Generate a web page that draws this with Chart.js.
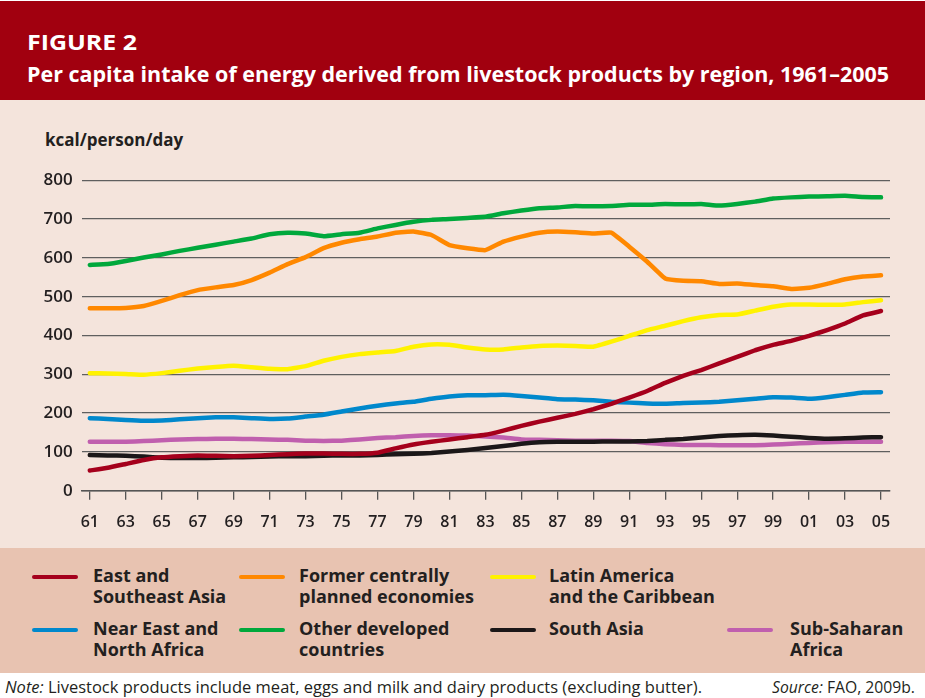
<!DOCTYPE html>
<html>
<head>
<meta charset="utf-8">
<script src="https://cdn.jsdelivr.net/npm/chart.js@4/dist/chart.umd.min.js"></script>
<style>
  html, body { margin:0; padding:0; }
  body { width:925px; height:698px; position:relative; background:#ffffff; overflow:hidden;
         font-family:"Open Sans", "Noto Sans", sans-serif; color:#231f20; }
  #head { position:absolute; left:0; top:1px; width:925px; height:99px; background:#a1000f; }
  .ttl { position:absolute; left:27px; color:#ffffff; font-weight:700; white-space:nowrap; transform-origin:0 0; }
  #fig { top:28px; font-size:21px; }
  #sub { top:60px; font-size:21px; }
  #panel { position:absolute; left:0; top:100px; width:925px; height:448px; background:#f4e4dc; }
  #unit { position:absolute; left:45px; top:128px; font-size:17px; font-weight:700; }
  #cv { position:absolute; left:0; top:160px; }
  .sw { position:absolute; height:4px; width:46px; border-radius:2px; }
  .lt { position:absolute; font-size:18px; font-weight:700; line-height:21px; white-space:nowrap; transform-origin:0 0; }
  #note { position:absolute; left:5px; top:675px; font-size:16.5px; white-space:nowrap; transform-origin:0 0; }
  #src { position:absolute; left:772px; top:675px; font-size:16.5px; white-space:nowrap; transform-origin:0 0; }
</style>
</head>
<body>
<div id="head"></div>
<div class="ttl" id="fig">FIGURE 2</div>
<div class="ttl" id="sub">Per capita intake of energy derived from livestock products by region, 1961–2005</div>
<div id="panel"></div>
<div id="unit">kcal/person/day</div>
<canvas id="cv" width="925" height="370"></canvas>
<div id="legendBox" style="position:absolute;left:0;top:548px;width:925px;height:125px;background:#e8c3b1;"></div>
<div id="note"><i>Note:</i> Livestock products include meat, eggs and milk and dairy products (excluding butter).</div>
<div id="src"><i>Source:</i> FAO, 2009b.</div>
<script>
// ---- data ----
const years = [1961,1962,1963,1964,1965,1966,1967,1968,1969,1970,
               1971,1972,1973,1974,1975,1976,1977,1978,1979,1980,
               1981,1982,1983,1984,1985,1986,1987,1988,1989,1990,
               1991,1992,1993,1994,1995,1996,1997,1998,1999,2000,
               2001,2002,2003,2004,2005];
const tickYears = [1961,1963,1965,1967,1969,1971,1973,1975,1977,1979,1981,1983,
                   1985,1987,1989,1991,1993,1995,1997,1999,2001,2003,2005];
const xTickLabels = ["61","63","65","67","69","71","73","75","77","79","81","83",
                     "85","87","89","91","93","95","97","99","01","03","05"];
const yTickValues = [0,100,200,300,400,500,600,700,800];

const eastSoutheastAsia = [52,59,69,79,86,89,91,90,89,90,
  92,94,96,96,95,95,98,109,119,126,
  132,138,144,155,167,178,188,198,210,224,
  240,257,278,296,311,328,345,362,376,386,
  399,414,431,452,463];
const formerCentrallyPlanned = [470,470,471,476,489,504,517,524,530,543,
  562,584,602,625,639,648,655,665,668,659,
  633,625,620,642,655,665,668,666,663,665,
  629,590,547,541,540,533,534,530,527,520,
  523,533,545,552,555];
const latinAmerica = [303,302,301,299,303,309,315,319,322,318,
  314,313,321,335,345,352,356,360,371,377,
  376,369,364,364,369,373,374,373,371,384,
  399,414,425,437,447,453,454,464,474,480,
  480,479,480,486,491];
const nearEastNorthAfrica = [187,185,182,180,181,184,187,189,189,187,
  185,186,191,196,204,212,219,225,229,237,
  243,246,246,247,244,240,236,235,233,229,
  227,225,224,226,227,229,233,237,241,240,
  237,241,247,253,254];
const otherDeveloped = [582,584,592,601,609,618,626,634,642,650,
  661,665,663,656,661,665,676,685,693,698,
  700,703,706,715,722,728,730,734,733,734,
  737,737,739,738,739,735,739,745,753,756,
  758,759,760,757,756];
const southAsia = [92,91,90,88,85,84,84,85,86,87,
  88,89,89,90,91,91,92,94,95,97,
  101,105,110,115,121,125,126,126,126,127,
  127,128,131,133,137,141,143,144,142,139,
  136,134,135,137,138];
const subSaharanAfrica = [126,126,126,128,130,132,133,134,134,133,
  132,131,129,128,129,132,136,138,141,143,
  143,142,140,137,132,131,130,129,129,129,
  128,123,120,118,118,117,117,117,119,121,
  123,125,126,126,126];

const seriesNames = ["East and\nSoutheast Asia","Former centrally\nplanned economies","Latin America\nand the Caribbean",
                     "Near East and\nNorth Africa","Other developed\ncountries","South Asia","Sub-Saharan\nAfrica"];
const seriesValues = [eastSoutheastAsia, formerCentrallyPlanned, latinAmerica,
                      nearEastNorthAfrica, otherDeveloped, southAsia, subSaharanAfrica];
// ---- styles ----
const seriesColors = ["#a5001c","#ff8800","#fff200","#0088cc","#00a83c","#1b1718","#c05fae"];
const drawOrder = [1,4,5,6,3,2,7];

// ---- chart ----
const datasets = seriesValues.map((vals, k) => ({
  label: seriesNames[k].replace("\n"," "),
  data: years.map((yr, i) => ({x: yr, y: vals[i]})),
  borderColor: seriesColors[k],
  backgroundColor: seriesColors[k],
  borderWidth: 4.5,
  pointRadius: 0,
  tension: 0.1,
  borderCapStyle: "round",
  borderJoinStyle: "round",
  order: drawOrder[k],
  fill: false
}));

new Chart(document.getElementById("cv"), {
  type: "line",
  data: { datasets },
  options: {
    responsive: false,
    animation: false,
    devicePixelRatio: 1,
    layout: { padding: { top: 20.3, right: 35, left: 0, bottom: 0 } },
    plugins: { legend: { display: false }, tooltip: { enabled: false } },
    scales: {
      x: {
        type: "linear",
        min: 1960.55,
        max: 2005.5,
        afterBuildTicks: (axis) => { axis.ticks = tickYears.map(v => ({ value: v })); },
        afterFit: (axis) => { axis.height = 39.3; },
        grid: { drawOnChartArea: false, drawTicks: true, tickLength: 9, color: "#555555", lineWidth: 1.3 },
        border: { display: true, color: "#555555", width: 1.5 },
        ticks: {
          autoSkip: false, maxRotation: 0, padding: 13,
          color: "#231f20",
          font: { family: "'Open Sans', sans-serif", size: 16, weight: "600" },
          callback: (v, i) => xTickLabels[i]
        }
      },
      y: {
        min: 0, max: 800,
        afterBuildTicks: (axis) => { axis.ticks = yTickValues.map(v => ({ value: v })); },
        afterFit: (axis) => { axis.width = 81.7; },
        grid: { drawTicks: false, color: "#5f5f5f", lineWidth: 1.3 },
        border: { display: false },
        ticks: {
          padding: 9,
          color: "#231f20",
          font: { family: "'Open Sans', sans-serif", size: 17, weight: "600" }
        }
      }
    }
  }
});

// ---- legend (HTML) ----
const legendSlots = [
  {sx:32, tx:93, y:577}, {sx:239, tx:299, y:577}, {sx:490, tx:549, y:577},
  {sx:32, tx:93, y:630}, {sx:239, tx:299, y:630}, {sx:490, tx:549, y:630}, {sx:727, tx:790, y:630}
];
seriesNames.forEach((name, k) => {
  const s = legendSlots[k];
  const sw = document.createElement("div");
  sw.className = "sw";
  sw.style.left = s.sx + "px"; sw.style.top = (s.y - 2) + "px";
  sw.style.background = seriesColors[k];
  document.body.appendChild(sw);
  const t = document.createElement("div");
  t.className = "lt";
  t.style.left = s.tx + "px"; t.style.top = (s.y - 12) + "px";
  t.innerHTML = name.split("\n").join("<br>");
  document.body.appendChild(t);
});

// fit text widths
function fitX(id, w) {
  const el = document.getElementById(id);
  const r = el.getBoundingClientRect().width;
  el.style.transform = "scaleX(" + (w / r) + ")";
}
fitX("sub", 862);
fitX("fig", 110);
fitX("note", 697);
fitX("src", 143);
</script>
</body>
</html>
